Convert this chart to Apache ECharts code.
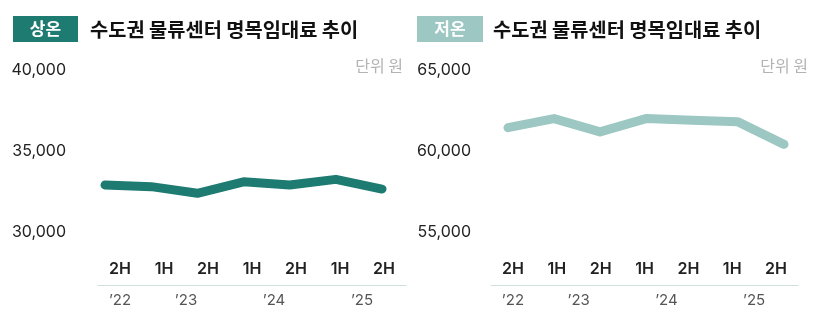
<!DOCTYPE html>
<html><head><meta charset="utf-8">
<script src="https://cdn.jsdelivr.net/npm/echarts@6/dist/echarts.min.js"></script>
<style>html,body{margin:0;padding:0;background:#fff}#c{width:818px;height:327px}</style>
</head><body><div id="c"></div>
<script>
// ---- data ----
const halfLabels = ['2H', '1H', '2H', '1H', '2H', '1H', '2H'];
const yearLabels = ['’22', '’23', '’24', '’25'];
const yearCenters = [0, 1.5, 3.5, 5.5]; // category position of each year group's centre
const ambientRent = [32900, 32800, 32390, 33100, 32900, 33250, 32650]; // 상온
const coldRent = [61440, 62000, 61180, 62000, 61900, 61800, 60410];    // 저온
const leftAxis = { min: 30000, max: 40000, interval: 5000 };
const rightAxis = { min: 55000, max: 65000, interval: 5000 };
const titleText = '수도권 물류센터 명목임대료 추이';
const unitText = '단위 원';
const badgeLeft = '상온';
const badgeRight = '저온';

const FONT = 'Inter, "Noto Sans CJK KR", sans-serif';
const KFONT = '"Noto Sans CJK KR", sans-serif';
const darkC = '#1e7b72', lightC = '#9cc7c2';

function fmt(v) { return v.toLocaleString('en-US'); }
function yearFmt(v) {
  for (let i = 0; i < yearCenters.length; i++) if (Math.abs(v - yearCenters[i]) < 1e-6) return yearLabels[i];
  return '';
}

const panels = [
  { plotLeft: 105, plotWidth: 277, axLeft: 98, axWidth: 308, yMargin: 39, y: leftAxis, data: ambientRent, color: darkC },
  { plotLeft: 508, plotWidth: 276, axLeft: 491, axWidth: 307, yMargin: 37, y: rightAxis, data: coldRent, color: lightC }
];

const grid = [], xAxis = [], yAxis = [], series = [];
panels.forEach((p, i) => {
  const gPlot = grid.length;
  grid.push({ left: p.plotLeft, width: p.plotWidth, top: 70, height: 162 });
  const gAx = grid.length;
  grid.push({ left: p.axLeft, width: p.axWidth, top: 284, height: 1 });
  const xPlot = xAxis.length;
  xAxis.push({ type: 'category', gridIndex: gPlot, data: halfLabels, boundaryGap: false, show: false });
  xAxis.push({ type: 'category', gridIndex: gAx, data: halfLabels, boundaryGap: true, position: 'bottom',
    axisLine: { show: true, lineStyle: { color: '#cfe0de', width: 1 } }, axisTick: { show: false }, splitLine: { show: false },
    axisLabel: { inside: true, interval: 0, margin: 8, color: '#222', fontSize: 16, fontWeight: 600, fontFamily: FONT } });
  xAxis.push({ type: 'value', gridIndex: gAx, min: -0.5, max: 6.5, interval: 0.5, position: 'bottom',
    axisLine: { show: false }, axisTick: { show: false }, splitLine: { show: false },
    axisLabel: { margin: 8, color: '#555', fontSize: 15, fontFamily: FONT, formatter: yearFmt, showMinLabel: true, showMaxLabel: true } });
  const yPlot = yAxis.length;
  yAxis.push({ type: 'value', gridIndex: gPlot, min: p.y.min, max: p.y.max, interval: p.y.interval,
    axisLine: { show: false }, axisTick: { show: false }, splitLine: { show: false },
    axisLabel: { margin: p.yMargin, color: '#222', fontSize: 16, fontFamily: FONT, formatter: fmt } });
  yAxis.push({ type: 'value', gridIndex: gAx, show: false });
  series.push({ type: 'line', xAxisIndex: xPlot, yAxisIndex: yPlot, data: p.data, symbol: 'none',
    lineStyle: { color: p.color, width: 9, cap: 'round', join: 'round' }, silent: true, animation: false });
});

const graphic = [
  { type: 'rect', shape: { x: 13, y: 16, width: 65, height: 26 }, style: { fill: darkC } },
  { type: 'text', x: 45.5, y: 29, style: { text: badgeLeft, fill: '#fff', font: 'bold 17px ' + KFONT, align: 'center', verticalAlign: 'middle' } },
  { type: 'text', x: 90, y: 29, style: { text: titleText, fill: '#111', font: 'bold 19.8px ' + KFONT, align: 'left', verticalAlign: 'middle' } },
  { type: 'text', x: 403, y: 66, style: { text: unitText, fill: '#b3b3b3', font: '16px ' + KFONT, align: 'right', verticalAlign: 'middle' } },
  { type: 'rect', shape: { x: 417, y: 16, width: 66, height: 26 }, style: { fill: lightC } },
  { type: 'text', x: 450, y: 29, style: { text: badgeRight, fill: '#fff', font: 'bold 17px ' + KFONT, align: 'center', verticalAlign: 'middle' } },
  { type: 'text', x: 493, y: 29, style: { text: titleText, fill: '#111', font: 'bold 19.8px ' + KFONT, align: 'left', verticalAlign: 'middle' } },
  { type: 'text', x: 808, y: 66, style: { text: unitText, fill: '#b3b3b3', font: '16px ' + KFONT, align: 'right', verticalAlign: 'middle' } }
];

const chart = echarts.init(document.getElementById('c'), null, { renderer: 'canvas' });
chart.setOption({ animation: false, backgroundColor: '#fff', grid, xAxis, yAxis, series, graphic });
</script></body></html>
